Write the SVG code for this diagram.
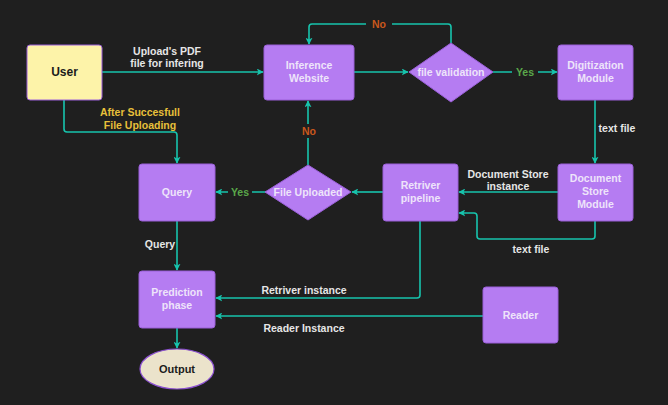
<svg xmlns="http://www.w3.org/2000/svg" width="668" height="405" viewBox="0 0 668 405">
<defs>
<style>
.bg{fill:#1f1f1f}
.box{fill:#b57cf2;stroke:#9a5fd8;stroke-width:1}
.user{fill:#fdf3a9;stroke:#9a5fd8;stroke-width:1}
.out{fill:#ebe3cb;stroke:#8a4fd0;stroke-width:1.2}
.t{font-family:"Liberation Sans",Arial,sans-serif;font-weight:bold;font-size:10.5px;fill:#f1eef5;text-anchor:middle}
.tn{fill:#eee4fa}
.dk{fill:#1b1b1b;font-size:12px}
.lbl{font-family:"Liberation Sans",Arial,sans-serif;font-weight:bold;font-size:10.5px;fill:#e6e6e6;text-anchor:middle}
.yes{fill:#5aa84a}
.no{fill:#c9571c}
.warn{fill:#e8c03a}
.c{fill:none;stroke:#17c4ad;stroke-width:1.6;stroke-linejoin:round}
</style>
<marker id="ah" viewBox="0 0 10 10" refX="9" refY="5" markerWidth="7" markerHeight="7" markerUnits="userSpaceOnUse" orient="auto">
<path d="M0,0 L10,5 L0,10 L2.5,5 z" fill="#17c4ad"/>
</marker>
</defs>
<rect class="bg" x="0" y="0" width="668" height="405"/>

<g id="connectors">
<path class="c" d="M102,72 L263,72" marker-end="url(#ah)"/>
<path class="c" d="M354,72 L408,72" marker-end="url(#ah)"/>
<path class="c" d="M493,72 L557,72" marker-end="url(#ah)"/>
<path class="c" d="M451,43 L451,27 Q451,24 448,24 L312,24 Q309,24 309,27 L309,44" marker-end="url(#ah)"/>
<path class="c" d="M595,100 L595,163" marker-end="url(#ah)"/>
<path class="c" d="M558,192 L459,192" marker-end="url(#ah)"/>
<path class="c" d="M595,221 L595,236 Q595,239 592,239 L480,239 Q477,239 477,236 L477,216 Q477,213 474,213 L459,213" marker-end="url(#ah)"/>
<path class="c" d="M383,192 L352,192" marker-end="url(#ah)"/>
<path class="c" d="M308,165 L308,101" marker-end="url(#ah)"/>
<path class="c" d="M266,192 L216,192" marker-end="url(#ah)"/>
<path class="c" d="M64,100 L64,129 Q64,132 67,132 L174,132 Q177,132 177,135 L177,163" marker-end="url(#ah)"/>
<path class="c" d="M177,221 L177,270" marker-end="url(#ah)"/>
<path class="c" d="M420,221 L420,295 Q420,298 417,298 L216,298" marker-end="url(#ah)"/>
<path class="c" d="M483,316 L216,316" marker-end="url(#ah)"/>
<path class="c" d="M177,328 L177,348" marker-end="url(#ah)"/>
<rect x="366" y="17" width="26" height="13" fill="#1f1f1f"/>
<text class="lbl no" x="379" y="28">No</text>
<rect x="512" y="65" width="26" height="13" fill="#1f1f1f"/>
<text class="lbl yes" x="525" y="76">Yes</text>
<rect x="228" y="185" width="24" height="13" fill="#1f1f1f"/>
<text class="lbl yes" x="240" y="196">Yes</text>
<rect x="298" y="124" width="22" height="14" fill="#1f1f1f"/>
<text class="lbl no" x="309" y="135">No</text>
<text class="lbl" x="167" y="55">Upload's PDF</text>
<text class="lbl" x="167" y="67">file for infering</text>
<text class="lbl warn" x="140" y="116">After Succesfull</text>
<text class="lbl warn" x="140" y="129">File Uploading</text>
<text class="lbl" x="617" y="132">text file</text>
<text class="lbl" x="508" y="178">Document Store</text>
<text class="lbl" x="508" y="190">instance</text>
<text class="lbl" x="531" y="253">text file</text>
<text class="lbl" x="160" y="248">Query</text>
<text class="lbl" x="304" y="294">Retriver instance</text>
<text class="lbl" x="304" y="332">Reader Instance</text>
</g>

<g id="user">
<rect class="user" x="27" y="45" width="75" height="55" rx="3"/>
<text class="t dk" x="64.5" y="76">User</text>
</g>
<g id="inference-website">
<rect class="box" x="264" y="45" width="90" height="55" rx="3"/>
<text class="t tn" x="309" y="69">Inference</text>
<text class="t tn" x="309" y="82">Website</text>
</g>
<g id="file-validation">
<polygon class="box" points="451,43 493,72 451,102 409,72"/>
<text class="t tn" x="451" y="76">file validation</text>
</g>
<g id="digitization-module">
<rect class="box" x="558" y="45" width="75" height="55" rx="3"/>
<text class="t tn" x="595.5" y="69">Digitization</text>
<text class="t tn" x="595.5" y="82">Module</text>
</g>
<g id="document-store-module">
<rect class="box" x="558" y="164" width="75" height="57" rx="3"/>
<text class="t tn" x="595.5" y="182">Document</text>
<text class="t tn" x="595.5" y="195">Store</text>
<text class="t tn" x="595.5" y="208">Module</text>
</g>
<g id="retriver-pipeline">
<rect class="box" x="383" y="164" width="75" height="57" rx="3"/>
<text class="t tn" x="420.5" y="189">Retriver</text>
<text class="t tn" x="420.5" y="202">pipeline</text>
</g>
<g id="file-uploaded">
<polygon class="box" points="308,165 351,192 308,220 265,192"/>
<text class="t tn" x="308" y="196">File Uploaded</text>
</g>
<g id="query">
<rect class="box" x="139" y="164" width="76" height="57" rx="3"/>
<text class="t tn" x="177" y="196">Query</text>
</g>
<g id="prediction-phase">
<rect class="box" x="139" y="271" width="76" height="57" rx="3"/>
<text class="t tn" x="177" y="296">Prediction</text>
<text class="t tn" x="177" y="309">phase</text>
</g>
<g id="reader">
<rect class="box" x="483" y="287" width="75" height="56" rx="3"/>
<text class="t tn" x="520.5" y="319">Reader</text>
</g>
<g id="output">
<ellipse class="out" cx="177" cy="369" rx="37" ry="20"/>
<text class="t dk" x="177" y="373" style="font-size:11px">Output</text>
</g>
</svg>
